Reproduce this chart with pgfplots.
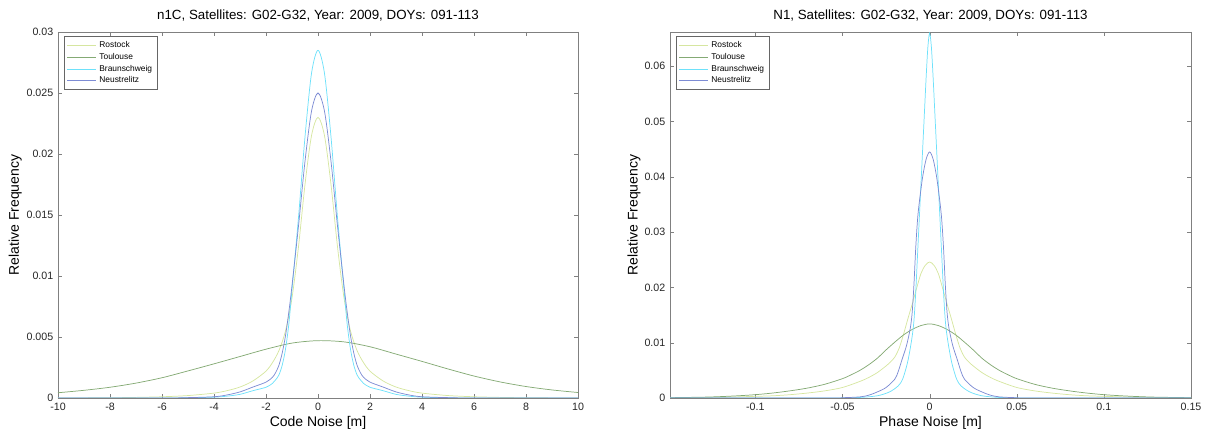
\documentclass[border=0pt]{standalone}
\usepackage{fontspec}
\setmainfont{Liberation Sans}
\usepackage{pgfplots}
\pgfplotsset{compat=1.18}

\definecolor{cRos}{RGB}{214,230,160}
\definecolor{cTou}{RGB}{132,170,116}
\definecolor{cBra}{RGB}{110,225,250}
\definecolor{cNeu}{RGB}{125,140,212}

\pgfplotsset{
  noiseax/.style={
    scale only axis,
    width=390pt, height=274.5pt,
    ymin=0,
    axis line style={black!50},
    tick align=inside,
    major tick length=3pt,
    tick style={black!50},
    tick label style={font=\fontsize{8}{9}\selectfont, black!85},
    /pgf/number format/assume math mode=true,
    scaled x ticks=false, scaled y ticks=false,
    title style={font=\fontsize{10}{12}\selectfont, at={(axis description cs:0.5,1)}, anchor=center, yshift=6.5pt},
    xlabel style={font=\fontsize{10.5}{12}\selectfont, at={(axis description cs:0.5,0)}, anchor=center, yshift=-18.5pt},
    ylabel style={font=\fontsize{10.5}{12}\selectfont, anchor=center},
    legend cell align=left,
    legend style={anchor=north west, draw=black!60, font=\fontsize{6.3}{7}\selectfont,
      inner xsep=2pt, inner ysep=1.5pt, row sep=-1.2pt},
    legend image code/.code={\draw[#1] (0pt,0pt) -- (22pt,0pt);},
    every axis plot/.append style={line width=0.55pt, smooth, no marks},
  }
}

\begin{document}
\begin{tikzpicture}
\path[use as bounding box] (-43.5pt,-27pt) rectangle (862.5pt,298.5pt);

\begin{axis}[noiseax,
  at={(0pt,0pt)}, anchor=south west,
  xmin=-10, xmax=10, ymax=0.03,
  xtick={-10,-8,...,10},
  ytick={0,0.005,0.01,0.015,0.02,0.025,0.03},
  yticklabel style={/pgf/number format/.cd, fixed, precision=3},
  title={n1C, Satellites: G02-G32, Year: 2009, DOYs: 091-113},
  xlabel={Code Noise [m]},
  ylabel={Relative Frequency},
  ylabel style={at={(axis description cs:-0.082,0.5)}},
  legend style={at={(axis description cs:0.011,0.988)}},
]
\addplot[cRos] coordinates {
 (-10,0) (-8,0.00002) (-7,0.00005) (-6,0.0001) (-5,0.0002) (-4,0.0004) (-3.5,0.0006)
 (-3,0.0009) (-2.5,0.0014) (-2,0.0022) (-1.75,0.0029) (-1.5,0.0039) (-1.25,0.0055)
 (-1,0.0082) (-0.75,0.0124) (-0.5,0.0175) (-0.25,0.0215) (0,0.0230)
 (0.25,0.0215) (0.5,0.0175) (0.75,0.0124) (1,0.0082) (1.25,0.0055) (1.5,0.0039)
 (1.75,0.0029) (2,0.0022) (2.5,0.0014) (3,0.0009) (3.5,0.0006) (4,0.0004) (5,0.0002)
 (6,0.0001) (7,0.00005) (8,0.00002) (10,0)
};
\addlegendentry{Rostock}
\addplot[cTou] coordinates {
 (-10,0.00043) (-9,0.00063) (-8,0.00088) (-7,0.00122) (-6,0.00166) (-5,0.00222)
 (-4,0.0028) (-3,0.0034) (-2,0.0040) (-1,0.0045) (0,0.0047) (1,0.0046) (2,0.0042)
 (3,0.0036) (4,0.0030) (5,0.00238) (6,0.00180) (7,0.00132) (8,0.00094) (9,0.00066) (10,0.00045)
};
\addlegendentry{Toulouse}
\addplot[cBra] coordinates {
 (-10,0) (-6,0) (-5,0.00002) (-4,0.00007) (-3.5,0.00015) (-3,0.0003) (-2.5,0.0006)
 (-2,0.00088) (-1.75,0.0012) (-1.625,0.0015) (-1.5,0.0019) (-1.375,0.0027) (-1.25,0.0040)
 (-1.125,0.0060) (-1,0.0089) (-0.75,0.0148) (-0.5,0.0214) (-0.25,0.0266) (0,0.0285)
 (0.25,0.0266) (0.5,0.0214) (0.75,0.0148) (1,0.0089) (1.125,0.0060) (1.25,0.0040)
 (1.375,0.0027) (1.5,0.0019) (1.625,0.0015) (1.75,0.0012) (2,0.00088) (2.5,0.0006)
 (3,0.0003) (3.5,0.00015) (4,0.00007) (5,0.00002) (6,0) (10,0)
};
\addlegendentry{Braunschweig}
\addplot[cNeu] coordinates {
 (-10,0) (-6,0) (-5,0.00003) (-4,0.0001) (-3.5,0.00025) (-3,0.0005) (-2.5,0.0009)
 (-2,0.0013) (-1.75,0.0017) (-1.625,0.0021) (-1.5,0.0027) (-1.375,0.0037) (-1.25,0.0051)
 (-1.125,0.0070) (-1,0.0092) (-0.75,0.0141) (-0.5,0.0194) (-0.25,0.0235) (0,0.0250)
 (0.25,0.0235) (0.5,0.0194) (0.75,0.0141) (1,0.0092) (1.125,0.0070) (1.25,0.0051)
 (1.375,0.0037) (1.5,0.0027) (1.625,0.0021) (1.75,0.0017) (2,0.0013) (2.5,0.0009)
 (3,0.0005) (3.5,0.00025) (4,0.0001) (5,0.00003) (6,0) (10,0)
};
\addlegendentry{Neustrelitz}
\end{axis}

\begin{axis}[noiseax,
  at={(459pt,0pt)}, anchor=south west,
  width=390.75pt,
  xmin=-0.149, xmax=0.15, ymax=0.0662,
  xtick={-0.1,-0.05,0,0.05,0.1,0.15},
  ytick={0,0.01,0.02,0.03,0.04,0.05,0.06},
  xticklabel style={/pgf/number format/.cd, fixed, precision=2},
  yticklabel style={/pgf/number format/.cd, fixed, precision=2},
  title={N1, Satellites: G02-G32, Year: 2009, DOYs: 091-113},
  xlabel={Phase Noise [m]},
  ylabel={Relative Frequency},
  ylabel style={at={(axis description cs:-0.069,0.5)}},
  legend style={at={(axis description cs:0.011,0.988)}},
]
\addplot[cRos] coordinates {
 (-0.15,0.00004) (-0.12,0.00013) (-0.1,0.0003) (-0.09,0.0004) (-0.08,0.0006) (-0.07,0.0009)
 (-0.06,0.0013) (-0.05,0.0019) (-0.04,0.0030) (-0.035,0.0037) (-0.03,0.0046) (-0.025,0.0058)
 (-0.0225,0.0065) (-0.02,0.0074) (-0.0175,0.0090) (-0.015,0.0115) (-0.0125,0.0143)
 (-0.01,0.0170) (-0.0075,0.0198) (-0.005,0.0225) (-0.0025,0.0240) (0,0.0246)
 (0.0025,0.0240) (0.005,0.0225) (0.0075,0.0198) (0.01,0.0170) (0.0125,0.0143)
 (0.015,0.0115) (0.0175,0.0090) (0.02,0.0074) (0.0225,0.0065) (0.025,0.0058) (0.03,0.0046)
 (0.035,0.0037) (0.04,0.0030) (0.05,0.0019) (0.06,0.0013) (0.07,0.0009) (0.08,0.0006)
 (0.09,0.0004) (0.1,0.0003) (0.12,0.00013) (0.15,0.00004)
};
\addlegendentry{Rostock}
\addplot[cTou] coordinates {
 (-0.15,0.00005) (-0.13,0.00015) (-0.12,0.00025) (-0.11,0.0004) (-0.1,0.0006) (-0.09,0.0009)
 (-0.08,0.0013) (-0.07,0.0018) (-0.06,0.0025) (-0.05,0.0035) (-0.045,0.0042) (-0.04,0.0050)
 (-0.035,0.0060) (-0.03,0.0072) (-0.025,0.0087) (-0.02,0.0101) (-0.015,0.0114) (-0.01,0.0124)
 (-0.005,0.0131) (0,0.0134) (0.005,0.0131) (0.01,0.0124) (0.015,0.0114) (0.02,0.0101)
 (0.025,0.0087) (0.03,0.0072) (0.035,0.0060) (0.04,0.0050) (0.045,0.0042) (0.05,0.0035)
 (0.06,0.0025) (0.07,0.0018) (0.08,0.0013) (0.09,0.0009) (0.1,0.0006) (0.11,0.0004)
 (0.12,0.00025) (0.13,0.00015) (0.15,0.00005)
};
\addlegendentry{Toulouse}
\addplot[cBra] coordinates {
 (-0.15,0) (-0.06,0) (-0.05,0.00002) (-0.04,0.0001) (-0.03,0.0004) (-0.023,0.0011)
 (-0.018,0.0022) (-0.0155,0.0034) (-0.013,0.0060) (-0.0115,0.0083) (-0.01,0.0112)
 (-0.009,0.0140) (-0.008,0.0190) (-0.007,0.0255) (-0.006,0.0320) (-0.005,0.0385)
 (-0.004,0.0450) (-0.003,0.0515) (-0.002,0.0580) (-0.001,0.0635) (0,0.0660)
 (0.001,0.0635) (0.002,0.0580) (0.003,0.0515) (0.004,0.0450) (0.005,0.0385) (0.006,0.0320)
 (0.007,0.0255) (0.008,0.0190) (0.009,0.0140) (0.01,0.0112) (0.0115,0.0083) (0.013,0.0060)
 (0.0155,0.0034) (0.018,0.0022) (0.023,0.0011) (0.03,0.0004) (0.04,0.0001) (0.05,0.00002)
 (0.06,0) (0.15,0)
};
\addlegendentry{Braunschweig}
\addplot[cNeu] coordinates {
 (-0.15,0) (-0.06,0) (-0.05,0.00005) (-0.04,0.0002) (-0.035,0.0005) (-0.03,0.0011)
 (-0.025,0.0019) (-0.02,0.0034) (-0.018,0.0048) (-0.016,0.0068) (-0.014,0.0087)
 (-0.013,0.0098) (-0.012,0.0112) (-0.011,0.0128) (-0.01,0.0155) (-0.009,0.0205)
 (-0.008,0.0270) (-0.007,0.0320) (-0.006,0.0352) (-0.004,0.0400) (-0.002,0.0432) (0,0.0445)
 (0.002,0.0432) (0.004,0.0400) (0.006,0.0352) (0.007,0.0320) (0.008,0.0270) (0.009,0.0205)
 (0.01,0.0155) (0.011,0.0128) (0.012,0.0112) (0.013,0.0098) (0.014,0.0087) (0.016,0.0068)
 (0.018,0.0048) (0.02,0.0034) (0.025,0.0019) (0.03,0.0011) (0.035,0.0005) (0.04,0.0002)
 (0.05,0.00005) (0.06,0) (0.15,0)
};
\addlegendentry{Neustrelitz}
\end{axis}
\end{tikzpicture}
\end{document}
